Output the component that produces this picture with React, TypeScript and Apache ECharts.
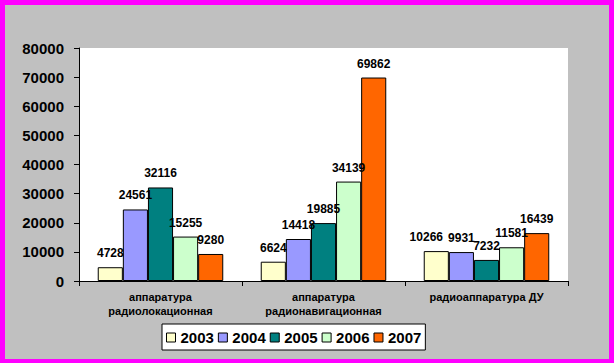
import React, { useEffect, useRef } from "react";
import * as echarts from "echarts";

const categories = ["аппаратура\nрадиолокационная", "аппаратура\nрадионавигационная", "радиоаппаратура ДУ"];
const years = ["2003", "2004", "2005", "2006", "2007"];
const v2003 = [4728, 6624, 10266];
const v2004 = [24561, 14418, 9931];
const v2005 = [32116, 19885, 7232];
const v2006 = [15255, 34139, 11581];
const v2007 = [9280, 69862, 16439];
const seriesValues = [v2003, v2004, v2005, v2006, v2007];
const colors = ["#FFFFCC", "#9999FF", "#008080", "#CCFFCC", "#FF6600"];

const FONT = "Arial, 'Liberation Sans', sans-serif";

export default function App() {
  const ref = useRef<HTMLDivElement>(null);
  useEffect(() => {
    document.body.style.margin = "0";
    const chart = echarts.init(ref.current!, null, { renderer: "svg" });
    chart.setOption({
      animation: false,
      backgroundColor: "#C0C0C0",
      textStyle: { fontFamily: FONT },
      grid: {
        left: 74,
        top: 43,
        width: 489,
        bottom: 78,
        show: true,
        backgroundColor: "#FFFFFF",
        borderWidth: 0,
      },
      legend: {
        data: years,
        left: 157,
        top: 319,
        orient: "horizontal",
        itemWidth: 9,
        itemHeight: 9,
        itemGap: 4,
        padding: [6, 4, 5, 4],
        backgroundColor: "#FFFFFF",
        borderColor: "#000000",
        borderWidth: 1,
        borderRadius: 0,
        icon: "rect",
        itemStyle: { borderColor: "#000000", borderWidth: 1 },
        textStyle: { fontFamily: FONT, fontSize: 15, fontWeight: "bold", color: "#000" },
      },
      xAxis: {
        type: "category",
        data: categories,
        axisLine: { lineStyle: { color: "#000", width: 1 } },
        axisTick: { show: true, length: 5, lineStyle: { color: "#000" } },
        axisLabel: {
          color: "#000",
          fontFamily: FONT,
          fontSize: 11,
          fontWeight: "bold",
          lineHeight: 14,
          margin: 9,
          interval: 0,
        },
      },
      yAxis: {
        type: "value",
        min: 0,
        max: 80000,
        interval: 10000,
        splitLine: { show: false },
        axisLine: { show: true, lineStyle: { color: "#000", width: 1 } },
        axisTick: { show: true, length: 5, lineStyle: { color: "#000" } },
        axisLabel: {
          color: "#000",
          fontFamily: FONT,
          fontSize: 15,
          fontWeight: "bold",
          margin: 15,
          formatter: (v: number) => String(v),
        },
      },
      series: years.map((y, i) => ({
        name: y,
        type: "bar",
        data: seriesValues[i].map((v, j) =>
          i === 0 && j === 2 ? { value: v, label: { offset: [-10, 0] } } : v
        ),
        barGap: "0%",
        barCategoryGap: "23%",
        itemStyle: { color: colors[i], borderColor: "#000", borderWidth: 1 },
        label: {
          show: true,
          position: "top",
          distance: 8,
          color: "#000",
          fontFamily: FONT,
          fontSize: 12,
          fontWeight: "bold",
        },
      })),
    });
    return () => chart.dispose();
  }, []);
  return (
    <div style={{ width: 614, height: 363, background: "#FF00FF", position: "relative" }}>
      <div ref={ref} style={{ position: "absolute", left: 5, top: 5, width: 604, height: 354 }} />
    </div>
  );
}
